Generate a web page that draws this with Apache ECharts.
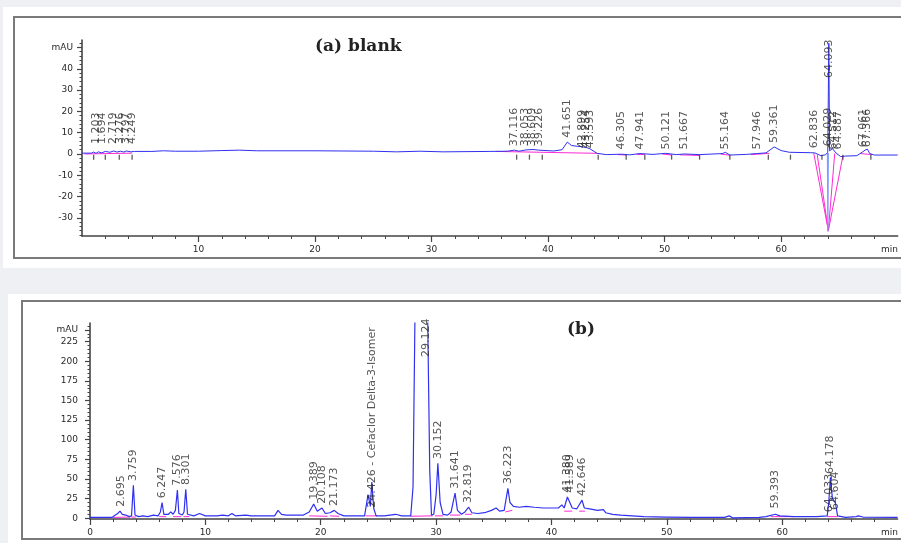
<!DOCTYPE html>
<html><head><meta charset="utf-8">
<script src="https://cdn.jsdelivr.net/npm/echarts@6/dist/echarts.min.js"></script>
<style>html,body{margin:0;padding:0;background:#eef0f3}#c{width:901px;height:543px}</style>
</head><body><div id="c"></div>
<script>
// ---------- (a) blank ----------
const traceA = [[0,0.4],[0.8,0.4],[1.0,0.9],[1.2,0.3],[1.4,1.0],[1.7,0.5],[2.0,1.2],[2.4,0.8],[2.7,1.4],[3.0,0.9],[3.3,1.3],[3.6,0.9],[3.8,1.4],[4.2,1.0],[4.5,1.2],[6,1.2],[7,1.5],[8,1.3],[10,1.3],[12,1.6],[13.5,1.8],[15,1.5],[20,1.5],[25,1.3],[27,1.0],[29,1.3],[31,1.0],[35,1.2],[36.5,1.3],[37.1,1.8],[37.5,1.3],[38.1,1.9],[38.7,2.1],[39.2,1.8],[40.5,1.4],[41.2,2.0],[41.65,5.6],[42.0,4.0],[42.5,3.6],[42.9,3.4],[43.3,3.0],[43.6,2.4],[44.2,0.3],[45,-0.3],[46.3,-0.1],[47,-0.4],[47.9,0.2],[49,-0.2],[50.1,0.3],[51,-0.3],[51.7,0],[53,-0.3],[55,0.2],[55.2,0.8],[55.6,-0.5],[57,-0.2],[57.9,0.2],[58.7,0.5],[59.4,3.3],[60,1.6],[60.7,0.8],[62.5,0.6],[62.9,0.5],[63.4,-0.8],[63.8,-0.4],[64.0,0.8],[64.09,52],[64.16,1.5],[64.4,2.5],[64.7,0.5],[65.1,-1.2],[65.5,-1],[66.5,-0.8],[67.0,1.0],[67.2,1.8],[67.4,2.3],[67.6,0.2],[68,-0.5],[70,-0.5]];
const dipA = [[63.97,0.5],[64.01,-36.5],[64.05,0.5]];
const baselinesA = [
  [[0.2,0],[4.3,0.4]],
  [[35.5,1.2],[44.2,0.3]],
  [[46.0,-0.3],[46.7,-0.5]],
  [[47.6,-0.2],[48.3,-0.3]],
  [[49.8,0],[50.6,-0.5]],
  [[51.3,-0.4],[53.0,-0.7]],
  [[54.8,0],[55.6,-0.6]],
  [[57.4,-0.3],[59.0,0.3]],
  [[62.8,0.3],[64.05,-36],[64.6,0.3]],
  [[63.1,-0.4],[64.05,-36],[65.3,-0.9]],
  [[66.8,0.2],[67.8,-0.3]]
];
const eventsA = [1.0,2.0,3.2,4.3,37.3,38.4,39.5,44.3,46.7,48.3,50.6,53.0,55.6,58.9,60.8,63.5,65.3,67.7];
const labelsA = [
  [1.2,3,'1.203'],[1.7,3,'1.694'],[2.7,3,'2.719'],[3.3,3,'3.276'],[3.8,3,'3.797'],[4.3,3,'4.249'],
  [37.116,2,'37.116'],[38.05,2,'38.053'],[38.6,2,'38.609'],[39.2,2,'39.226'],[41.651,6,'41.651'],
  [42.9,1,'42.899'],[43.25,1,'43.254'],[43.6,1,'43.593'],[46.305,0.5,'46.305'],[47.941,0.5,'47.941'],
  [50.121,0.5,'50.121'],[51.667,0.5,'51.667'],[55.164,0.5,'55.164'],[57.946,0.5,'57.946'],
  [59.361,3.5,'59.361'],[62.836,1,'62.836'],[64.093,34,'64.093'],[64.03,2,'64.029'],
  [64.5,0.5,'64.512'],[64.9,0.5,'64.887'],[67.061,1.5,'67.061'],[67.366,1.5,'67.366']
];
const yTicksA = [-30,-20,-10,0,10,20,30,40,50];
const xTicksA = [10,20,30,40,50,60];

// ---------- (b) ----------
const traceB = [[0,1],[1.9,1],[2.2,4],[2.4,6],[2.6,9],[2.8,5],[3.1,4],[3.4,2],[3.6,3],[3.759,42],[3.9,4],[4.2,2],[4.6,3],[5,2],[5.5,4],[5.9,3],[6.1,8],[6.247,20],[6.4,5],[6.8,5],[7.0,8],[7.2,5],[7.4,10],[7.576,36],[7.7,6],[8.0,4],[8.15,8],[8.301,37],[8.45,5],[9.0,3],[9.5,6],[10,3],[11,3],[11.5,4],[12,3],[12.3,6],[12.6,3],[13.5,4],[14,3],[15,3],[16,3],[16.3,10],[16.6,5],[17,4],[18,4],[18.5,4],[19,8],[19.389,18],[19.7,9],[20.108,13],[20.4,6],[20.8,7],[21.173,10],[21.5,6],[22,3],[23,3],[23.8,3],[24.1,30],[24.3,15],[24.426,46],[24.6,12],[24.8,3],[25.5,3],[26,4],[26.5,5],[27,3],[27.8,3],[28.0,40],[28.2,300],[28.7,450],[29.124,420],[29.3,220],[29.45,60],[29.6,4],[29.8,5],[30.0,30],[30.152,70],[30.35,20],[30.6,5],[31,4],[31.3,8],[31.641,32],[31.85,10],[32.2,5],[32.5,8],[32.819,14],[33.1,7],[33.6,6],[34.2,7],[34.8,10],[35.2,13],[35.5,9],[35.9,10],[36.223,38],[36.4,20],[36.7,15],[37.2,14],[37.8,15],[38.5,14],[39.3,13],[40,13],[40.6,13],[40.9,17],[41.1,13],[41.38,27],[41.589,20],[41.8,13],[42.2,12],[42.646,23],[42.85,13],[43.3,12],[44,10],[44.5,11],[44.7,7],[45.3,5],[46,4],[47,3],[48,2],[50,1.5],[52,1],[55,1],[55.4,3],[55.7,0.5],[58,1],[58.6,2],[59.393,5],[59.8,3],[61,2],[63,2],[63.9,3],[64.033,20],[64.178,52],[64.35,25],[64.604,20],[64.8,3],[65.5,1],[66.4,2],[66.6,3],[67,1.5],[70,1]];
const baselinesB = [
  [[2.0,1],[3.5,1.5]],[[3.6,1.5],[4.0,1.5]],[[6.0,2],[6.6,2]],[[7.2,2],[7.9,2]],[[8.1,2],[8.6,2]],
  [[19.0,3],[20.6,2.5]],[[20.8,3],[21.6,2.5]],[[23.9,3],[24.9,3]],[[27.8,2.5],[29.7,3]],
  [[29.9,3],[30.6,3]],[[31.2,4],[32.1,4]],[[32.5,5],[33.1,5]],[[36.0,8],[36.6,10]],
  [[41.1,9],[41.8,9]],[[42.4,9],[42.9,9]],[[59.0,2],[61.0,2]],[[63.9,2],[64.8,2]]
];
const labelsB = [
  [2.695,10,'2.695'],[3.759,43,'3.759'],[6.247,21,'6.247'],[7.576,37,'7.576'],[8.301,38,'8.301'],
  [19.389,19,'19.389'],[20.108,14,'20.108'],[21.173,11,'21.173'],
  [24.426,9,'24.426 - Cefaclor Delta-3-Isomer'],[29.124,201,'29.124'],[30.152,71,'30.152'],
  [31.641,33,'31.641'],[32.819,15,'32.819'],[36.223,39,'36.223'],[41.38,28,'41.380'],
  [41.589,28,'41.589'],[42.646,24,'42.646'],[59.393,8,'59.393'],[64.033,3,'64.033'],
  [64.178,52,'64.178'],[64.604,6,'64.604']
];
const yTicksB = [0,25,50,75,100,125,150,175,200,225,240];
const xTicksB = [0,10,20,30,40,50,60];

const AX = '#444', TXT = '#2a2a2a', BLUE = '#3030f0', MAG = '#ff2ad4';
const FONT = 'DejaVu Sans';

function range(a, b, s, skip) { const r = []; for (let v = a; v <= b + 1e-9; v += s) { if (!skip || Math.abs(Math.round(v) % skip) > 1e-9) r.push(+v.toFixed(3)); } return r; }

function yAxes(grid, min, max, ticks, minor, margin) {
  return [{
    type: 'value', gridIndex: grid, position: 'left', min, max, splitLine: { show: false },
    axisLine: { show: true, onZero: false, lineStyle: { color: AX, width: 1.6 } },
    axisTick: { show: true, length: 5, customValues: ticks, lineStyle: { color: AX, width: 1.2 } },
    axisLabel: { customValues: ticks, margin, fontSize: 9, fontFamily: FONT, color: TXT,
      formatter: v => (v === ticks[ticks.length - 1] ? 'mAU' : String(v)) }
  }, {
    type: 'value', gridIndex: grid, position: 'left', min, max, splitLine: { show: false },
    axisLine: { show: false, onZero: false }, axisLabel: { show: false },
    axisTick: { show: true, length: 2.5, customValues: minor, lineStyle: { color: AX, width: 1 } }
  }];
}
function xAxes(grid, labelTicks, majorTicks, minorTicks) {
  return [{
    type: 'value', gridIndex: grid, position: 'bottom', min: 0, max: 70, splitLine: { show: false },
    axisLine: { show: true, onZero: false, lineStyle: { color: AX, width: 1.6 } },
    axisTick: { show: true, length: 6, customValues: majorTicks, lineStyle: { color: AX, width: 1.2 } },
    axisLabel: { customValues: labelTicks.concat([69.3]), margin: 9, fontSize: 9, fontFamily: FONT, color: TXT,
      formatter: v => (v > 65 ? 'min' : String(v)) }
  }, {
    type: 'value', gridIndex: grid, position: 'bottom', min: 0, max: 70, splitLine: { show: false },
    axisLine: { show: false, onZero: false }, axisLabel: { show: false },
    axisTick: { show: true, length: 3, customValues: minorTicks, lineStyle: { color: AX, width: 1 } }
  }];
}

function lineSeries(data, xi, yi, color, width, z) {
  return { type: 'line', xAxisIndex: xi, yAxisIndex: yi, data, symbol: 'none', showSymbol: false,
    lineStyle: { color, width }, clip: true, z: z || 3, animation: false, silent: true };
}
function labelSeries(labels, xi, yi) {
  return { type: 'scatter', xAxisIndex: xi, yAxisIndex: yi, symbolSize: 1, itemStyle: { color: 'rgba(0,0,0,0)' },
    data: labels.map(l => ({ value: [l[0], l[1]], name: l[2] })), z: 5, animation: false, silent: true,
    label: { show: true, formatter: p => p.name, rotate: 90, position: 'top', distance: 3, align: 'left',
      verticalAlign: 'middle', fontSize: 11, fontFamily: FONT, color: TXT } };
}

const series = [];
baselinesA.forEach(s => series.push(lineSeries(s, 0, 0, MAG, 1, 3)));
series.push(lineSeries(dipA, 0, 0, '#7f9cff', 1.2, 3));
series.push(lineSeries(traceA, 0, 0, BLUE, 1, 4));
series.push({ type: 'scatter', xAxisIndex: 0, yAxisIndex: 0, symbol: 'rect', symbolSize: [1.3, 5],
  itemStyle: { color: '#333' }, data: eventsA.map(t => [t, -1.5]), z: 4, animation: false, silent: true });
series.push(labelSeries(labelsA, 0, 0));
baselinesB.forEach(s => series.push(lineSeries(s, 2, 2, MAG, 1, 3)));
series.push(lineSeries(traceB, 2, 2, BLUE, 1.2, 4));
series.push(labelSeries(labelsB, 2, 2));

const chart = echarts.init(document.getElementById('c'), null, { renderer: 'canvas' });
chart.setOption({
  backgroundColor: '#eef0f3',
  animation: false,
  title: [
    { text: '(a) blank', left: 310, top: 33, textStyle: { fontFamily: 'DejaVu Serif', fontWeight: 'bold', fontSize: 17, color: '#222' } },
    { text: '(b)', left: 562, top: 316, textStyle: { fontFamily: 'DejaVu Serif', fontWeight: 'bold', fontSize: 17, color: '#222' } }
  ],
  graphic: [
    { type: 'rect', z: -10, shape: { x: 3, y: 7, width: 900, height: 261 }, style: { fill: '#ffffff' }, silent: true },
    { type: 'rect', z: -10, shape: { x: 8, y: 294, width: 895, height: 250 }, style: { fill: '#ffffff' }, silent: true },
    { type: 'rect', z: -9, shape: { x: 14, y: 17, width: 900, height: 241 }, style: { fill: 'none', stroke: '#7a7a7a', lineWidth: 2 }, silent: true },
    { type: 'rect', z: -9, shape: { x: 22, y: 301, width: 890, height: 238 }, style: { fill: 'none', stroke: '#7a7a7a', lineWidth: 2 }, silent: true }
  ],
  grid: [
    { left: 82, top: 40, width: 824.6, height: 196 },
    { left: 90, top: 323, width: 817.6, height: 196 }
  ],
  xAxis: [].concat(
    xAxes(0, xTicksA, xTicksA, range(2, 68, 2, 10)),
    xAxes(1, xTicksB, xTicksB, range(2, 68, 2, 10))
  ),
  yAxis: [].concat(
    yAxes(0, -38.5, 53.5, yTicksA, range(-38, 52, 2, 10), 9),
    yAxes(1, -1, 248.7, yTicksB, range(5, 245, 5, 25), 12)
  ),
  series
});
</script></body></html>
